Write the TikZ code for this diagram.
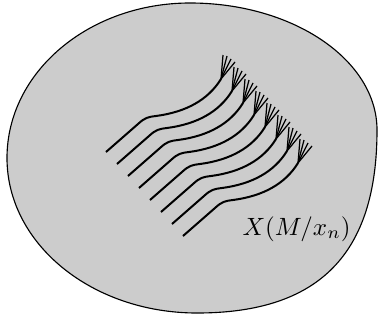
\documentclass[tikz,border=0pt]{standalone}
\begin{document}
\begin{tikzpicture}[x=0.4pt,y=-0.4pt,
  region/.style={fill=black!20, draw=black, line width=0.45pt},
  fiber/.style={line width=0.8pt},
  fanline/.style={line width=0.5pt}]
\useasboundingbox (0,0) rectangle (378,320);
\draw[region] (190,3) .. controls (293,3) and (377,60) .. (377,130)
  .. controls (377,254) and (319,313) .. (197,313)
  .. controls (92,313) and (7,244) .. (7,158)
  .. controls (7,72) and (89,3) .. cycle;
\foreach \i in {0,...,7}{
  \begin{scope}[shift={(11*\i,12*\i)}]
    \coordinate (s\i) at (106,152);
    \coordinate (t\i) at (221,79);
    \draw[fiber] (s\i) -- (138,124) .. controls (145,117.5) and (148,117) .. (156,116)
      .. controls (186,112) and (208,100) .. (t\i);
    \foreach \dx/\dy in {2/-24,6/-23,10/-20,14/-17}{
      \draw[fanline] (t\i) -- ++(\dx,\dy);
    }
  \end{scope}
}
\node[anchor=base west, inner sep=0pt] (lbl) at (242,235) {$X(M/x_n)$};
\end{tikzpicture}
\end{document}
